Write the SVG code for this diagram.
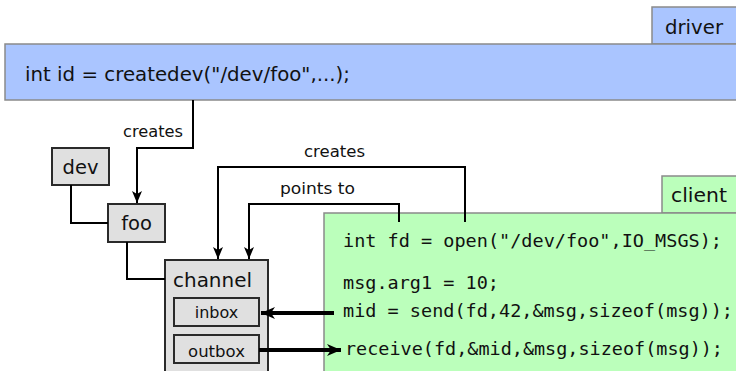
<svg xmlns="http://www.w3.org/2000/svg" width="736" height="371" viewBox="0 0 736 371">
<style>
.sans{font-family:"DejaVu Sans","Open Sans",sans-serif;fill:#111}
.mono{font-family:"DejaVu Sans Mono","Liberation Mono",monospace;font-size:18.5px;fill:#111}
.blue{fill:#aac5ff;stroke:#8a8a8a;stroke-width:1.5}
.green{fill:#bbffbb;stroke:#8a8a8a;stroke-width:1.5}
.box{fill:#e0e0e0;stroke:#2a2a2a;stroke-width:2}
.ln{fill:none;stroke:#000;stroke-width:2}
.thick{fill:none;stroke:#000;stroke-width:4}
</style>
<defs>
<marker id="ah" markerUnits="userSpaceOnUse" viewBox="0 0 12 10" refX="12" refY="5" markerWidth="12" markerHeight="10" orient="auto">
<path d="M0,0 L12,5 L0,10 L3,5 z" fill="#000"/>
</marker>
<marker id="ahb" markerUnits="userSpaceOnUse" viewBox="0 0 14 12" refX="14" refY="6" markerWidth="14" markerHeight="12" orient="auto">
<path d="M0,0 L14,6 L0,12 L4,6 z" fill="#000"/>
</marker>
</defs>
<g id="driver">
<rect class="blue" x="652" y="7" width="90" height="37"/>
<rect class="blue" x="5" y="44" width="740" height="56"/>
<text class="sans" x="665" y="34" font-size="19" textLength="58" lengthAdjust="spacingAndGlyphs">driver</text>
<text class="sans" x="25" y="81" font-size="19" textLength="325" lengthAdjust="spacingAndGlyphs">int id = createdev("/dev/foo",...);</text>
</g>
<g id="client">
<rect class="green" x="662" y="176" width="80" height="37"/>
<rect class="green" x="324" y="213" width="420" height="170"/>
<text class="sans" x="671" y="202" font-size="19" textLength="56" lengthAdjust="spacingAndGlyphs">client</text>
<text class="mono" x="343" y="247" textLength="379" lengthAdjust="spacingAndGlyphs">int fd = open("/dev/foo",IO_MSGS);</text>
<text class="mono" x="343" y="289">msg.arg1 = 10;</text>
<text class="mono" x="343" y="317" textLength="390" lengthAdjust="spacingAndGlyphs">mid = send(fd,42,&amp;msg,sizeof(msg));</text>
<text class="mono" x="345" y="355" textLength="378" lengthAdjust="spacingAndGlyphs">receive(fd,&amp;mid,&amp;msg,sizeof(msg));</text>
</g>
<g id="dev">
<rect class="box" x="52" y="148" width="57" height="37"/>
<text class="sans" x="80.5" y="174" font-size="19.5" text-anchor="middle">dev</text>
</g>
<g id="foo">
<rect class="box" x="108" y="204" width="57" height="38"/>
<text class="sans" x="136.5" y="230" font-size="19.5" text-anchor="middle">foo</text>
</g>
<g id="channel">
<rect class="box" x="165" y="260" width="103" height="130"/>
<text class="sans" x="173" y="287" font-size="19.5" textLength="79" lengthAdjust="spacingAndGlyphs">channel</text>
</g>
<g id="inbox">
<rect class="box" x="174" y="298" width="85" height="28" stroke-width="1.5"/>
<text class="sans" x="216.5" y="318" font-size="16" text-anchor="middle">inbox</text>
</g>
<g id="outbox">
<rect class="box" x="174" y="335" width="85" height="28" stroke-width="1.5"/>
<text class="sans" x="216.5" y="357" font-size="16.5" text-anchor="middle">outbox</text>
</g>
<g id="connectors">
<path class="ln" d="M193,100 V148 H137 V203" marker-end="url(#ah)"/>
<path class="ln" d="M71,185 V223 H108"/>
<path class="ln" d="M127,242 V279 H165"/>
<path class="ln" d="M465,222 V167 H218 V259" marker-end="url(#ah)"/>
<path class="ln" d="M399,222 V204 H249 V259" marker-end="url(#ah)"/>
<path class="thick" d="M334,313 H261" marker-end="url(#ahb)"/>
<path class="thick" d="M259,350 H341" marker-end="url(#ahb)"/>
<text class="sans" x="123" y="137" font-size="16" textLength="60" lengthAdjust="spacingAndGlyphs">creates</text>
<text class="sans" x="304" y="157" font-size="16" textLength="61" lengthAdjust="spacingAndGlyphs">creates</text>
<text class="sans" x="280" y="194" font-size="16" textLength="75" lengthAdjust="spacingAndGlyphs">points to</text>
</g>
</svg>
